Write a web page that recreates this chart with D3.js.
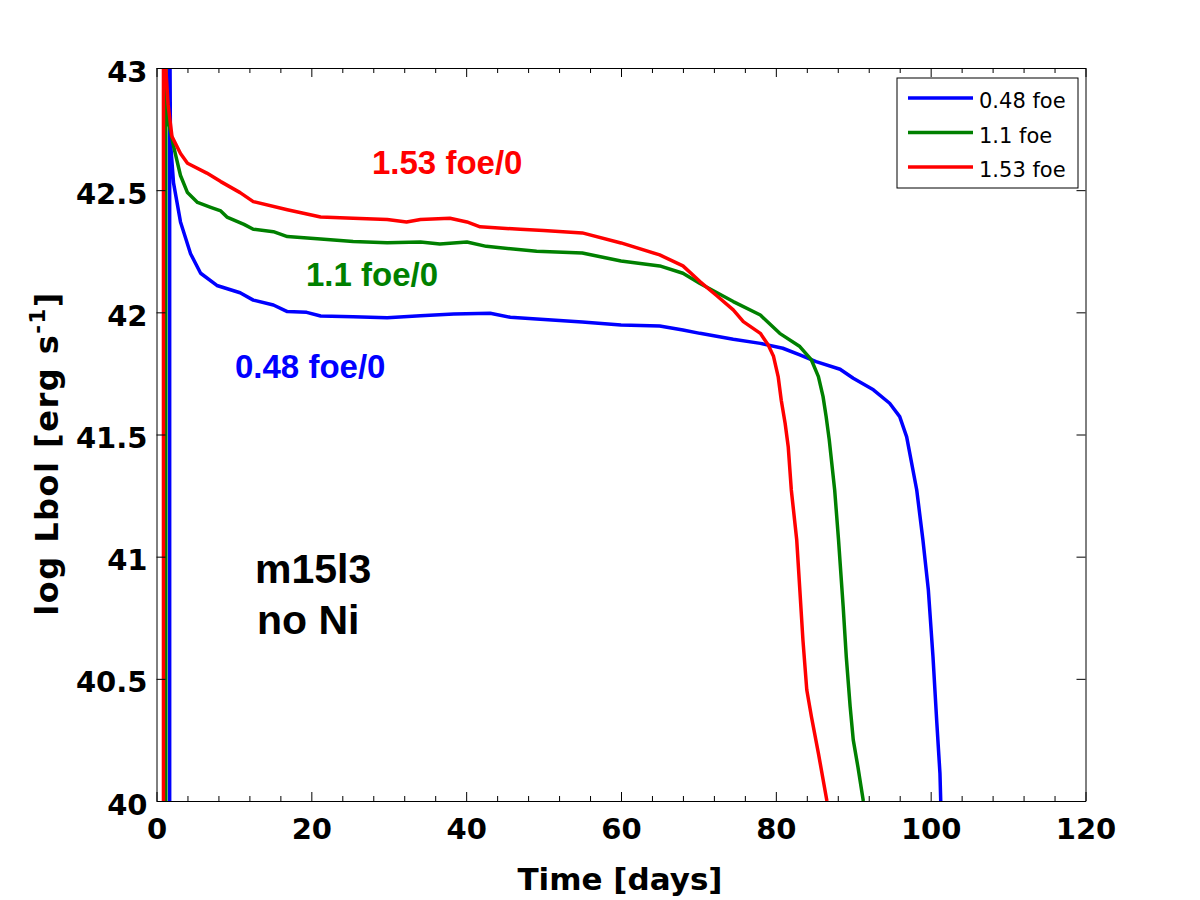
<!DOCTYPE html>
<html>
<head>
<meta charset="utf-8">
<script src="https://cdn.jsdelivr.net/npm/d3@7"></script>
<style>
  body { margin: 0; background: #fff; }
  svg { display: block; }
  .tick text { font-family: 'DejaVu Sans', sans-serif; font-weight: bold; font-size: 29px; fill: #000; }
</style>
</head>
<body>
<svg id="chart" width="1200" height="900"></svg>
<script>
// light curves [time in days, log Lbol]
const curve048 = [
  [1.7, 39.9], [1.7, 43.3], [1.8, 42.70], [2.2, 42.53], [3.1, 42.37], [4.4, 42.24], [5.7, 42.16],
  [7.8, 42.11], [10.8, 42.08], [12.5, 42.05], [15.1, 42.03], [16.9, 42.003], [19.4, 42.0],
  [21.2, 41.985], [25.4, 41.982], [29.8, 41.978], [34.1, 41.986], [38.4, 41.993], [43.1, 41.996],
  [45.7, 41.98], [49.1, 41.973], [55, 41.96], [60, 41.948], [65, 41.944], [68, 41.928],
  [70.2, 41.914], [74.5, 41.89], [78.0, 41.873], [80.9, 41.853], [83.1, 41.826], [85.2, 41.798],
  [88.3, 41.767], [90.0, 41.73], [92.6, 41.683], [94.7, 41.628], [96.0, 41.573], [96.9, 41.49],
  [98.2, 41.273], [99.0, 41.068], [99.7, 40.864], [100.3, 40.59], [100.8, 40.318], [101.2, 40.113],
  [101.3, 40.0]
]
const curve11 = [
  [1.2, 39.9], [1.2, 43.3], [1.25, 42.95], [1.3, 42.82], [2.2, 42.68], [3.1, 42.56], [4.0, 42.49],
  [5.3, 42.45], [7.0, 42.43], [8.3, 42.415], [9.1, 42.39], [11.3, 42.36], [12.5, 42.34],
  [15.1, 42.33], [16.9, 42.31], [21.2, 42.30], [25.4, 42.29], [29.8, 42.285], [34.1, 42.288],
  [36.6, 42.28], [40.1, 42.288], [42.6, 42.27], [49.1, 42.25], [55, 42.243], [60, 42.21],
  [65, 42.19], [68, 42.16], [70.2, 42.118], [74.5, 42.044], [78.0, 41.989], [80.5, 41.914],
  [83.1, 41.86], [84.6, 41.805], [85.5, 41.737], [86.1, 41.655], [86.5, 41.573], [86.9, 41.478],
  [87.6, 41.273], [88.1, 41.068], [88.7, 40.795], [89.1, 40.59], [89.6, 40.386], [90.0, 40.25],
  [90.6, 40.14], [91.3, 40.0]
]
const curve153 = [
  [0.9, 39.9], [0.9, 43.3], [1.2, 43.0], [1.5, 42.85], [2.0, 42.72], [3.1, 42.65], [4.0, 42.61],
  [6.5, 42.57], [8.3, 42.535], [10.8, 42.49], [12.5, 42.453], [16.9, 42.42], [21.2, 42.39],
  [25.4, 42.385], [29.8, 42.38], [32.3, 42.37], [34.1, 42.38], [37.9, 42.385], [40.1, 42.37],
  [41.8, 42.35], [47.0, 42.34], [50, 42.335], [55, 42.325], [60, 42.284], [65, 42.235],
  [68, 42.19], [70.2, 42.126], [72.3, 42.07], [74.5, 42.01], [75.8, 41.962], [78.0, 41.914],
  [79.0, 41.867], [79.7, 41.82], [80.3, 41.737], [80.7, 41.64], [81.2, 41.546], [81.6, 41.45],
  [82.0, 41.273], [82.7, 41.068], [83.1, 40.864], [83.5, 40.659], [84.0, 40.454], [84.6, 40.345],
  [85.5, 40.195], [86.6, 40.0]
]

const seriesNames = ['0.48 foe', '1.1 foe', '1.53 foe']
const seriesColors = ['#0000ff', '#008000', '#ff0000']
const annotations = ['0.48 foe/0', '1.1 foe/0', '1.53 foe/0']
const xTicks = [0, 20, 40, 60, 80, 100, 120]
const yTicks = [40, 40.5, 41, 41.5, 42, 42.5, 43]

const plotLeft = 156.5, plotRight = 1085.5, plotTop = 68, plotBottom = 801

const x = d3.scaleLinear().domain([0, 120]).range([plotLeft, plotRight])
const y = d3.scaleLinear().domain([40, 43]).range([plotBottom, plotTop])
const xMinor = d3.range(0, 121, 4).filter((d) => d % 20 !== 0)

const svg = d3.select('#chart')

svg.append('defs').append('clipPath').attr('id', 'plotClip')
  .append('rect')
  .attr('x', plotLeft).attr('y', plotTop)
  .attr('width', plotRight - plotLeft).attr('height', plotBottom - plotTop)

// curves, drawn in matlab order so red ends on top
const line = d3.line().x((d) => x(d[0])).y((d) => y(d[1]))
const plot = svg.append('g').attr('clip-path', 'url(#plotClip)')
;[curve048, curve11, curve153].forEach((c, i) => {
  plot.append('path')
    .datum(c)
    .attr('d', line)
    .attr('fill', 'none')
    .attr('stroke', seriesColors[i])
    .attr('stroke-width', 3.5)
    .attr('stroke-linejoin', 'round')
})

// axes, ticks pointing inward
function styleAxis(g) {
  g.selectAll('path.domain').attr('stroke', '#000').attr('stroke-width', 1)
  g.selectAll('.tick line').attr('stroke', '#000').attr('stroke-width', 1)
}

svg.append('g')
  .attr('transform', `translate(0,${plotBottom})`)
  .call(d3.axisBottom(x).tickValues(xTicks).tickSizeInner(-9).tickSizeOuter(0).tickPadding(17).tickFormat(d3.format('d')))
  .call(styleAxis)
svg.append('g')
  .attr('transform', `translate(0,${plotBottom})`)
  .call(d3.axisBottom(x).tickValues(xMinor).tickSize(-5).tickFormat(''))
  .call(styleAxis)
  .call((g) => g.select('.domain').remove())
svg.append('g')
  .attr('transform', `translate(0,${plotTop})`)
  .call(d3.axisTop(x).tickValues(xTicks).tickSizeInner(-9).tickSizeOuter(0).tickFormat(''))
  .call(styleAxis)
svg.append('g')
  .attr('transform', `translate(0,${plotTop})`)
  .call(d3.axisTop(x).tickValues(xMinor).tickSize(-5).tickFormat(''))
  .call(styleAxis)
  .call((g) => g.select('.domain').remove())

svg.append('g')
  .attr('transform', `translate(${plotLeft},0)`)
  .call(d3.axisLeft(y).tickValues(yTicks).tickSizeInner(-9).tickSizeOuter(0).tickPadding(9).tickFormat((d) => String(d)))
  .call(styleAxis)
  .call((g) => g.selectAll('.tick text').attr('dy', '0.45em'))
svg.append('g')
  .attr('transform', `translate(${plotRight},0)`)
  .call(d3.axisRight(y).tickValues(yTicks).tickSizeInner(-9).tickSizeOuter(0).tickFormat(''))
  .call(styleAxis)

// axis labels
svg.append('text')
  .attr('x', (plotLeft + plotRight) / 2 - 1)
  .attr('y', 890)
  .attr('text-anchor', 'middle')
  .style('font-family', 'DejaVu Sans, sans-serif')
  .style('font-weight', 'bold')
  .style('font-size', '31px')
  .text('Time [days]')

const yLabel = svg.append('text')
  .attr('transform', `translate(58,${(290 + 617) / 2}) rotate(-90)`)
  .attr('text-anchor', 'middle')
  .style('font-family', 'DejaVu Sans, sans-serif')
  .style('font-weight', 'bold')
  .style('font-size', '32px')
  .style('letter-spacing', '1.5px')
yLabel.append('tspan').text('log Lbol [erg s')
yLabel.append('tspan').attr('dy', -13).style('font-size', '21px').text('-1')
yLabel.append('tspan').attr('dy', 13).text(']')

// curve annotations
const annoPos = [[235, 378], [306, 286], [372, 174]]
annotations.forEach((t, i) => {
  svg.append('text')
    .attr('x', annoPos[i][0])
    .attr('y', annoPos[i][1])
    .attr('fill', seriesColors[i])
    .style('font-family', 'Liberation Sans, Arial, sans-serif')
    .style('font-weight', 'bold')
    .style('font-size', '33px')
    .text(t)
})

const modelLines = ['m15l3', 'no Ni']
modelLines.forEach((t, i) => {
  svg.append('text')
    .attr('x', 255 + i * 2)
    .attr('y', 583 + i * 51)
    .style('font-family', 'Liberation Sans, Arial, sans-serif')
    .style('font-weight', 'bold')
    .style('font-size', '41px')
    .text(t)
})

// legend
const legend = svg.append('g')
legend.append('rect')
  .attr('x', 897).attr('y', 78).attr('width', 181).attr('height', 110)
  .attr('fill', '#fff').attr('stroke', '#000').attr('stroke-width', 1)
seriesNames.forEach((name, i) => {
  const ly = 98 + i * 34.5
  legend.append('line')
    .attr('x1', 908).attr('x2', 973).attr('y1', ly).attr('y2', ly)
    .attr('stroke', seriesColors[i]).attr('stroke-width', 3.5)
  legend.append('text')
    .attr('x', 979).attr('y', ly + 10)
    .style('font-family', 'DejaVu Sans, sans-serif')
    .style('font-size', '21px')
    .text(name)
})
</script>
</body>
</html>
